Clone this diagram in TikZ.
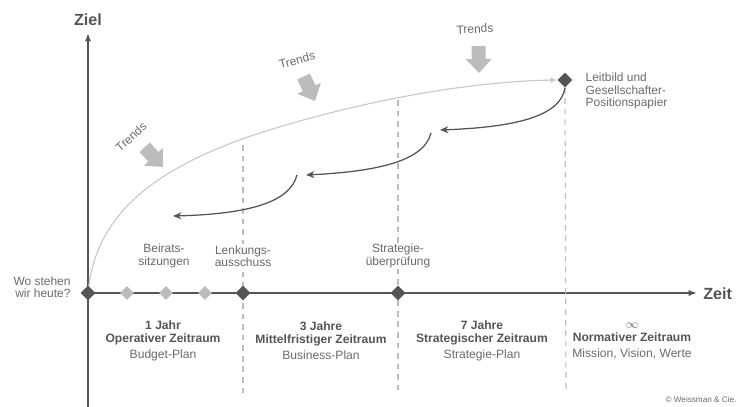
\documentclass[tikz,border=0pt]{standalone}
\usepackage{fontspec}
\setmainfont{Liberation Sans}
\usetikzlibrary{arrows.meta,shapes.geometric}

\definecolor{dunkel}{HTML}{555555}
\definecolor{mittel}{HTML}{6A6A6A}
\definecolor{hell}{HTML}{BCBCBC}
\definecolor{kurve}{HTML}{C8C8C8}

\tikzset{
  raute/.style={diamond,fill=dunkel,inner sep=0pt,minimum size=10.5pt},
  rautehell/.style={raute,fill=hell,minimum size=10pt},
  achse/.style={dunkel,line width=1.1pt,-{Latex[length=6pt,width=4.5pt]}},
  rueck/.style={dunkel,line width=0.9pt,-{Stealth[length=6pt,width=5pt]}},
  trenner/.style={hell,line width=0.8pt,dash pattern=on 4pt off 3.5pt},
  beschr/.style={font=\fontsize{8.5}{8.8}\selectfont,text=mittel,align=center,inner sep=1pt},
  zeitraum/.style={beschr,font=\fontsize{8.6}{9.4}\selectfont},
  titel/.style={font=\bfseries\fontsize{11.5}{12}\selectfont,text=dunkel,inner sep=0pt},
}

% Trend-Pfeil: Spitze x, Spitze y, Winkel
\newcommand{\trendpfeil}[3]{%
  \fill[hell,shift={(#1,#2)},rotate=#3] (0,0) -- (-14,13) -- (-14,7) -- (-27,7)
    -- (-27,-7) -- (-14,-7) -- (-14,-13) -- cycle;}

\begin{document}
\begin{tikzpicture}[x=0.025cm,y=0.025cm]
\useasboundingbox (0,0) rectangle (743,407);

%\draw[step=50,gray!30,very thin] (0,0) grid (743,407); %Hilfsgitter

% Achsen
\coordinate (null) at (88,114);
\coordinate (unten) at (88,0);
\coordinate (oben) at (88,374);
\coordinate (rechts) at (697,114);
\draw[achse] (unten) -- (oben);
\draw[achse] (null) -- (rechts);
\node[titel] (ziel) at (88,387) {Ziel};
\node[titel,anchor=west] (zeit) at (703,113) {Zeit};

% Trennlinien
\node[raute] (leitbild) at (565,327) {};
\coordinate (t1o) at (243,262);
\coordinate (t1u) at (243,14);
\coordinate (t2o) at (398,307);
\coordinate (t2u) at (398,14);
\coordinate (t3u) at (566,14);
\draw[trenner] (t1o) -- (t1u);
\draw[trenner] (t2o) -- (t2u);
\draw[trenner] (leitbild.south) -- (t3u);

% Zielkurve
\draw[kurve,line width=0.8pt,-{Latex[length=5pt,width=4pt]}] (null)
  .. controls (95,190) and (150,235) .. (245,269)
  .. controls (330,298) and (450,325) .. (leitbild.west);

% Rueckwaerts-Pfeile
\coordinate (r1) at (440,277);
\coordinate (r2a) at (431,274);
\coordinate (r2) at (306,232);
\coordinate (r3a) at (297,232);
\coordinate (r3) at (173,191);
\draw[rueck] (leitbild.south) .. controls (561,292) and (520,280) .. (r1);
\draw[rueck] (r2a) .. controls (425,250) and (390,236) .. (r2);
\draw[rueck] (r3a) .. controls (290,205) and (250,193) .. (r3);

% Meilensteine
\node[raute] (heute) at (null) {};
\node[rautehell] (b1) at (127,114) {};
\node[rautehell] (b2) at (166,114) {};
\node[rautehell] (b3) at (205,114) {};
\node[raute] (lenk) at (243,114) {};
\node[raute] (strat) at (398,114) {};

% Beschriftungen
\node[beschr,align=left,anchor=west] (leittext) at (584,316) {Leitbild und\\Gesellschafter-\\Positionspapier};
\node[beschr,align=right] (wo) at (42,120) {Wo stehen\\wir heute?};
\node[beschr,fill=white] (beirat) at (164,151) {Beirats-\\sitzungen};
\node[beschr,fill=white] (lenktext) at (243,151) {Lenkungs-\\ausschuss};
\node[beschr,fill=white] (strattext) at (398,151) {Strategie-\\überprüfung};

\node[zeitraum] (z1) at (163,66) {\textbf{\textcolor{dunkel}{1 Jahr}}\\\textbf{\textcolor{dunkel}{Operativer Zeitraum}}\\[2pt]Budget-Plan};
\node[zeitraum] (z2) at (321,66) {\textbf{\textcolor{dunkel}{3 Jahre}}\\\textbf{\textcolor{dunkel}{Mittelfristiger Zeitraum}}\\[2pt]Business-Plan};
\node[zeitraum] (z3) at (482,66) {\textbf{\textcolor{dunkel}{7 Jahre}}\\\textbf{\textcolor{dunkel}{Strategischer Zeitraum}}\\[2pt]Strategie-Plan};
\node[zeitraum] (z4) at (632,66) {$\infty$\\\textbf{\textcolor{dunkel}{Normativer Zeitraum}}\\[2pt]Mission, Vision, Werte};

\node[beschr,font=\fontsize{5.8}{6}\selectfont,anchor=east] (copy) at (738,7) {© Weissman \& Cie.};

% Trends
\node[beschr,rotate=42] (tr1) at (131,270) {Trends};
\node[beschr,rotate=15] (tr2) at (297,347) {Trends};
\node[beschr,rotate=3] (tr3) at (475,378) {Trends};
\trendpfeil{163}{240}{-47}
\trendpfeil{315}{306}{-65}
\trendpfeil{479}{334}{-89}

\end{tikzpicture}
\end{document}
